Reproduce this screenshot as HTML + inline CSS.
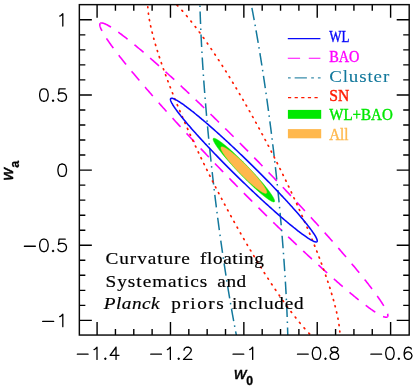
<!DOCTYPE html><html><head><meta charset="utf-8"><style>html,body{margin:0;padding:0;background:#fff}svg{display:block;will-change:transform}text{font-family:"Liberation Sans",sans-serif}.s{font-family:"Liberation Serif",serif}</style></head><body>
<svg width="415" height="389" viewBox="0 0 415 389">
<rect width="415" height="389" fill="#fff"/>
<defs><clipPath id="c"><rect x="79.35" y="4.65" width="329.85" height="330.40"/></clipPath></defs>
<g clip-path="url(#c)" fill="none">
<path d="M100.30 23.39 L100.41 23.30 L100.52 23.21 L100.65 23.14 L100.79 23.08 L100.94 23.04 L101.10 23.00 L101.27 22.97 L101.46 22.96 L101.65 22.96 L101.85 22.96 L102.07 22.98 L102.30 23.01 L102.53 23.06 L102.78 23.11 L103.04 23.17 L103.31 23.25 L103.59 23.33 L103.88 23.43 L104.18 23.54 L104.49 23.66 L104.81 23.79 L105.14 23.93 L105.49 24.09 L105.84 24.25 L106.21 24.43 L106.58 24.61 L106.97 24.81 L107.36 25.02 L107.77 25.24 L108.18 25.47 L108.61 25.71 L109.05 25.96 L109.50 26.23 L109.95 26.50 L110.42 26.79 L110.90 27.09 L111.39 27.39 L111.89 27.71 L112.39 28.04 L112.91 28.38 L113.44 28.73 L113.98 29.09 L114.53 29.47 L115.08 29.85 L115.65 30.24 L116.23 30.65 L116.82 31.06 L117.41 31.49 L118.02 31.92 L118.64 32.37 L119.26 32.83 L119.90 33.29 L120.54 33.77 L121.20 34.26 L121.86 34.76 L122.53 35.27 L123.21 35.79 L123.90 36.32 L124.60 36.86 L125.31 37.41 L126.03 37.97 L126.76 38.54 L127.50 39.12 L128.24 39.71 L128.99 40.31 L129.76 40.92 L130.53 41.54 L131.31 42.17 L132.10 42.81 L132.89 43.45 L133.70 44.11 L134.51 44.78 L135.33 45.46 L136.16 46.15 L137.00 46.84 L137.85 47.55 L138.70 48.26 L139.57 48.99 L140.44 49.72 L141.32 50.47 L142.20 51.22 L143.10 51.98 L144.00 52.75 L144.91 53.53 L145.83 54.32 L146.75 55.11 L147.68 55.92 L148.62 56.73 L149.57 57.56 L150.52 58.39 L151.48 59.23 L152.45 60.08 L153.42 60.93 L154.41 61.80 L155.39 62.67 L156.39 63.55 L157.39 64.44 L158.40 65.34 L159.41 66.24 L160.44 67.16 L161.46 68.08 L162.50 69.01 L163.54 69.95 L164.58 70.89 L165.64 71.84 L166.69 72.80 L167.76 73.77 L168.83 74.74 L169.90 75.72 L170.98 76.71 L172.07 77.71 L173.16 78.71 L174.26 79.72 L175.36 80.74 L176.47 81.76 L177.59 82.79 L178.70 83.83 L179.83 84.87 L180.96 85.92 L182.09 86.98 L183.23 88.04 L184.37 89.11 L185.51 90.19 L186.67 91.27 L187.82 92.35 L188.98 93.45 L190.15 94.55 L191.31 95.65 L192.49 96.76 L193.66 97.88 L194.84 99.00 L196.03 100.13 L197.21 101.26 L198.40 102.40 L199.60 103.54 L200.80 104.69 L202.00 105.84 L203.20 107.00 L204.41 108.16 L205.62 109.33 L206.83 110.50 L208.05 111.67 L209.27 112.86 L210.49 114.04 L211.71 115.23 L212.94 116.42 L214.17 117.62 L215.40 118.82 L216.63 120.03 L217.86 121.24 L219.10 122.45 L220.34 123.67 L221.58 124.89 L222.82 126.11 L224.07 127.34 L225.31 128.57 L226.56 129.80 L227.81 131.04 L229.06 132.28 L230.31 133.52 L231.56 134.76 L232.81 136.01 L234.07 137.26 L235.32 138.52 L236.58 139.77 L237.83 141.03 L239.09 142.29 L240.34 143.55 L241.60 144.81 L242.86 146.08 L244.11 147.35 L245.37 148.62 L246.63 149.89 L247.88 151.16 L249.14 152.44 L250.39 153.71 L251.65 154.99 L252.90 156.27 L254.16 157.54 L255.41 158.82 L256.66 160.11 L257.92 161.39 L259.17 162.67 L260.41 163.95 L261.66 165.23 L262.91 166.52 L264.15 167.80 L265.40 169.09 L266.64 170.37 L267.88 171.65 L269.12 172.94 L270.35 174.22 L271.59 175.51 L272.82 176.79 L274.05 178.07 L275.28 179.35 L276.50 180.63 L277.73 181.91 L278.95 183.19 L280.16 184.47 L281.38 185.75 L282.59 187.03 L283.80 188.30 L285.00 189.57 L286.21 190.85 L287.41 192.12 L288.60 193.39 L289.80 194.65 L290.99 195.92 L292.17 197.18 L293.35 198.44 L294.53 199.70 L295.71 200.96 L296.88 202.21 L298.04 203.46 L299.20 204.71 L300.36 205.96 L301.52 207.20 L302.67 208.44 L303.81 209.68 L304.95 210.92 L306.09 212.15 L307.22 213.38 L308.34 214.60 L309.47 215.83 L310.58 217.05 L311.69 218.26 L312.80 219.47 L313.90 220.68 L315.00 221.88 L316.08 223.08 L317.17 224.28 L318.25 225.47 L319.32 226.66 L320.39 227.84 L321.45 229.02 L322.51 230.20 L323.56 231.37 L324.60 232.53 L325.64 233.69 L326.67 234.85 L327.69 236.00 L328.71 237.14 L329.72 238.28 L330.73 239.42 L331.73 240.55 L332.72 241.67 L333.71 242.79 L334.69 243.91 L335.66 245.01 L336.62 246.12 L337.58 247.21 L338.53 248.30 L339.47 249.39 L340.41 250.47 L341.34 251.54 L342.26 252.61 L343.17 253.67 L344.08 254.72 L344.98 255.77 L345.87 256.81 L346.75 257.84 L347.63 258.87 L348.50 259.89 L349.35 260.90 L350.21 261.91 L351.05 262.91 L351.88 263.90 L352.71 264.89 L353.53 265.87 L354.34 266.84 L355.14 267.80 L355.94 268.76 L356.72 269.71 L357.50 270.65 L358.26 271.58 L359.02 272.51 L359.77 273.43 L360.51 274.34 L361.25 275.24 L361.97 276.13 L362.68 277.02 L363.39 277.90 L364.09 278.77 L364.77 279.63 L365.45 280.48 L366.12 281.33 L366.78 282.16 L367.43 282.99 L368.07 283.81 L368.70 284.62 L369.32 285.42 L369.94 286.22 L370.54 287.00 L371.13 287.78 L371.71 288.54 L372.29 289.30 L372.85 290.05 L373.40 290.79 L373.95 291.52 L374.48 292.24 L375.01 292.95 L375.52 293.65 L376.02 294.34 L376.52 295.03 L377.00 295.70 L377.48 296.37 L377.94 297.02 L378.39 297.67 L378.84 298.30 L379.27 298.93 L379.69 299.54 L380.10 300.15 L380.51 300.74 L380.90 301.33 L381.28 301.90 L381.65 302.47 L382.01 303.03 L382.36 303.57 L382.70 304.11 L383.02 304.63 L383.34 305.15 L383.65 305.65 L383.95 306.15 L384.23 306.63 L384.51 307.10 L384.77 307.57 L385.03 308.02 L385.27 308.46 L385.50 308.89 L385.72 309.31 L385.93 309.73 L386.13 310.13 L386.32 310.51 L386.50 310.89 L386.67 311.26 L386.82 311.62 L386.97 311.96 L387.10 312.30 L387.23 312.62 L387.34 312.94 L387.44 313.24 L387.53 313.53 L387.61 313.81 L387.68 314.08 L387.74 314.34 L387.79 314.59 L387.82 314.83 L387.85 315.05 L387.86 315.27 L387.86 315.47 L387.86 315.67 L387.84 315.85 L387.81 316.02 L387.77 316.18 L387.72 316.33 L387.65 316.47 L387.58 316.59 L387.49 316.71 L387.40 316.81" stroke="#ff00ff" stroke-width="1.6" stroke-dasharray="11.8 8.78"/>
<path d="M387.40 316.81 L387.29 316.90 L387.18 316.99 L387.05 317.06 L386.91 317.12 L386.76 317.16 L386.60 317.20 L386.43 317.23 L386.24 317.24 L386.05 317.24 L385.85 317.24 L385.63 317.22 L385.40 317.19 L385.17 317.14 L384.92 317.09 L384.66 317.03 L384.39 316.95 L384.11 316.87 L383.82 316.77 L383.52 316.66 L383.21 316.54 L382.89 316.41 L382.56 316.27 L382.21 316.11 L381.86 315.95 L381.49 315.77 L381.12 315.59 L380.73 315.39 L380.34 315.18 L379.93 314.96 L379.52 314.73 L379.09 314.49 L378.65 314.24 L378.20 313.97 L377.75 313.70 L377.28 313.41 L376.80 313.11 L376.31 312.81 L375.81 312.49 L375.31 312.16 L374.79 311.82 L374.26 311.47 L373.72 311.11 L373.17 310.73 L372.62 310.35 L372.05 309.96 L371.47 309.55 L370.88 309.14 L370.29 308.71 L369.68 308.28 L369.06 307.83 L368.44 307.37 L367.80 306.91 L367.16 306.43 L366.50 305.94 L365.84 305.44 L365.17 304.93 L364.49 304.41 L363.80 303.88 L363.10 303.34 L362.39 302.79 L361.67 302.23 L360.94 301.66 L360.20 301.08 L359.46 300.49 L358.71 299.89 L357.94 299.28 L357.17 298.66 L356.39 298.03 L355.60 297.39 L354.81 296.75 L354.00 296.09 L353.19 295.42 L352.37 294.74 L351.54 294.05 L350.70 293.36 L349.85 292.65 L349.00 291.94 L348.13 291.21 L347.26 290.48 L346.38 289.73 L345.50 288.98 L344.60 288.22 L343.70 287.45 L342.79 286.67 L341.87 285.88 L340.95 285.09 L340.02 284.28 L339.08 283.47 L338.13 282.64 L337.18 281.81 L336.22 280.97 L335.25 280.12 L334.28 279.27 L333.29 278.40 L332.31 277.53 L331.31 276.65 L330.31 275.76 L329.30 274.86 L328.29 273.96 L327.26 273.04 L326.24 272.12 L325.20 271.19 L324.16 270.25 L323.12 269.31 L322.06 268.36 L321.01 267.40 L319.94 266.43 L318.87 265.46 L317.80 264.48 L316.72 263.49 L315.63 262.49 L314.54 261.49 L313.44 260.48 L312.34 259.46 L311.23 258.44 L310.11 257.41 L309.00 256.37 L307.87 255.33 L306.74 254.28 L305.61 253.22 L304.47 252.16 L303.33 251.09 L302.19 250.01 L301.03 248.93 L299.88 247.85 L298.72 246.75 L297.55 245.65 L296.39 244.55 L295.21 243.44 L294.04 242.32 L292.86 241.20 L291.67 240.07 L290.49 238.94 L289.30 237.80 L288.10 236.66 L286.90 235.51 L285.70 234.36 L284.50 233.20 L283.29 232.04 L282.08 230.87 L280.87 229.70 L279.65 228.53 L278.43 227.34 L277.21 226.16 L275.99 224.97 L274.76 223.78 L273.53 222.58 L272.30 221.38 L271.07 220.17 L269.84 218.96 L268.60 217.75 L267.36 216.53 L266.12 215.31 L264.88 214.09 L263.63 212.86 L262.39 211.63 L261.14 210.40 L259.89 209.16 L258.64 207.92 L257.39 206.68 L256.14 205.44 L254.89 204.19 L253.63 202.94 L252.38 201.68 L251.12 200.43 L249.87 199.17 L248.61 197.91 L247.36 196.65 L246.10 195.39 L244.84 194.12 L243.59 192.85 L242.33 191.58 L241.07 190.31 L239.82 189.04 L238.56 187.76 L237.31 186.49 L236.05 185.21 L234.80 183.93 L233.54 182.66 L232.29 181.38 L231.04 180.09 L229.78 178.81 L228.53 177.53 L227.29 176.25 L226.04 174.97 L224.79 173.68 L223.55 172.40 L222.30 171.11 L221.06 169.83 L219.82 168.55 L218.58 167.26 L217.35 165.98 L216.11 164.69 L214.88 163.41 L213.65 162.13 L212.42 160.85 L211.20 159.57 L209.97 158.29 L208.75 157.01 L207.54 155.73 L206.32 154.45 L205.11 153.17 L203.90 151.90 L202.70 150.63 L201.49 149.35 L200.29 148.08 L199.10 146.81 L197.90 145.55 L196.71 144.28 L195.53 143.02 L194.35 141.76 L193.17 140.50 L191.99 139.24 L190.82 137.99 L189.66 136.74 L188.50 135.49 L187.34 134.24 L186.18 133.00 L185.03 131.76 L183.89 130.52 L182.75 129.28 L181.61 128.05 L180.48 126.82 L179.36 125.60 L178.23 124.37 L177.12 123.15 L176.01 121.94 L174.90 120.73 L173.80 119.52 L172.70 118.32 L171.62 117.12 L170.53 115.92 L169.45 114.73 L168.38 113.54 L167.31 112.36 L166.25 111.18 L165.19 110.00 L164.14 108.83 L163.10 107.67 L162.06 106.51 L161.03 105.35 L160.01 104.20 L158.99 103.06 L157.98 101.92 L156.97 100.78 L155.97 99.65 L154.98 98.53 L153.99 97.41 L153.01 96.29 L152.04 95.19 L151.08 94.08 L150.12 92.99 L149.17 91.90 L148.23 90.81 L147.29 89.73 L146.36 88.66 L145.44 87.59 L144.53 86.53 L143.62 85.48 L142.72 84.43 L141.83 83.39 L140.95 82.36 L140.07 81.33 L139.20 80.31 L138.35 79.30 L137.49 78.29 L136.65 77.29 L135.82 76.30 L134.99 75.31 L134.17 74.33 L133.36 73.36 L132.56 72.40 L131.76 71.44 L130.98 70.49 L130.20 69.55 L129.44 68.62 L128.68 67.69 L127.93 66.77 L127.19 65.86 L126.45 64.96 L125.73 64.07 L125.02 63.18 L124.31 62.30 L123.61 61.43 L122.93 60.57 L122.25 59.72 L121.58 58.87 L120.92 58.04 L120.27 57.21 L119.63 56.39 L119.00 55.58 L118.38 54.78 L117.76 53.98 L117.16 53.20 L116.57 52.42 L115.99 51.66 L115.41 50.90 L114.85 50.15 L114.30 49.41 L113.75 48.68 L113.22 47.96 L112.69 47.25 L112.18 46.55 L111.68 45.86 L111.18 45.17 L110.70 44.50 L110.22 43.83 L109.76 43.18 L109.31 42.53 L108.86 41.90 L108.43 41.27 L108.01 40.66 L107.60 40.05 L107.19 39.46 L106.80 38.87 L106.42 38.30 L106.05 37.73 L105.69 37.17 L105.34 36.63 L105.00 36.09 L104.68 35.57 L104.36 35.05 L104.05 34.55 L103.75 34.05 L103.47 33.57 L103.19 33.10 L102.93 32.63 L102.67 32.18 L102.43 31.74 L102.20 31.31 L101.98 30.89 L101.77 30.47 L101.57 30.07 L101.38 29.69 L101.20 29.31 L101.03 28.94 L100.88 28.58 L100.73 28.24 L100.60 27.90 L100.47 27.58 L100.36 27.26 L100.26 26.96 L100.17 26.67 L100.09 26.39 L100.02 26.12 L99.96 25.86 L99.91 25.61 L99.88 25.37 L99.85 25.15 L99.84 24.93 L99.84 24.73 L99.84 24.53 L99.86 24.35 L99.89 24.18 L99.93 24.02 L99.98 23.87 L100.05 23.73 L100.12 23.61 L100.21 23.49 L100.30 23.39" stroke="#ff00ff" stroke-width="1.6" stroke-dasharray="11.87 8.84" stroke-dashoffset="7.3"/>
<path d="M251.27 4.65 L251.43 5.44 L251.58 6.24 L251.73 7.04 L251.89 7.84 L252.04 8.64 L252.19 9.44 L252.35 10.25 L252.50 11.05 L252.65 11.86 L252.81 12.67 L252.96 13.49 L253.11 14.30 L253.27 15.12 L253.42 15.94 L253.57 16.76 L253.72 17.58 L253.88 18.41 L254.03 19.24 L254.18 20.06 L254.33 20.90 L254.48 21.73 L254.64 22.56 L254.79 23.40 L254.94 24.24 L255.09 25.08 L255.24 25.92 L255.39 26.76 L255.54 27.61 L255.69 28.45 L255.84 29.30 L255.99 30.15 L256.14 31.00 L256.29 31.86 L256.44 32.71 L256.59 33.57 L256.74 34.43 L256.89 35.29 L257.04 36.15 L257.19 37.02 L257.34 37.88 L257.49 38.75 L257.64 39.62 L257.79 40.49 L257.93 41.36 L258.08 42.23 L258.23 43.11 L258.38 43.99 L258.53 44.87 L258.67 45.75 L258.82 46.63 L258.97 47.51 L259.11 48.39 L259.26 49.28 L259.41 50.17 L259.55 51.06 L259.70 51.95 L259.85 52.84 L259.99 53.73 L260.14 54.63 L260.28 55.53 L260.43 56.42 L260.57 57.32 L260.72 58.22 L260.86 59.13 L261.00 60.03 L261.15 60.93 L261.29 61.84 L261.44 62.75 L261.58 63.66 L261.72 64.57 L261.87 65.48 L262.01 66.39 L262.15 67.30 L262.29 68.22 L262.43 69.14 L262.58 70.05 L262.72 70.97 L262.86 71.89 L263.00 72.82 L263.14 73.74 L263.28 74.66 L263.42 75.59 L263.56 76.51 L263.70 77.44 L263.84 78.37 L263.98 79.30 L264.12 80.23 L264.26 81.16 L264.40 82.10 L264.54 83.03 L264.67 83.97 L264.81 84.90 L264.95 85.84 L265.09 86.78 L265.22 87.72 L265.36 88.66 L265.50 89.60 L265.63 90.54 L265.77 91.49 L265.90 92.43 L266.04 93.38 L266.17 94.32 L266.31 95.27 L266.44 96.22 L266.58 97.17 L266.71 98.12 L266.85 99.07 L266.98 100.02 L267.11 100.97 L267.25 101.93 L267.38 102.88 L267.51 103.84 L267.64 104.79 L267.77 105.75 L267.91 106.71 L268.04 107.67 L268.17 108.62 L268.30 109.58 L268.43 110.55 L268.56 111.51 L268.69 112.47 L268.82 113.43 L268.95 114.40 L269.07 115.36 L269.20 116.33 L269.33 117.29 L269.46 118.26 L269.59 119.22 L269.71 120.19 L269.84 121.16 L269.97 122.13 L270.09 123.10 L270.22 124.07 L270.34 125.04 L270.47 126.01 L270.59 126.98 L270.72 127.96 L270.84 128.93 L270.97 129.90 L271.09 130.88 L271.21 131.85 L271.34 132.82 L271.46 133.80 L271.58 134.78 L271.70 135.75 L271.82 136.73 L271.94 137.71 L272.06 138.68 L272.18 139.66 L272.30 140.64 L272.42 141.62 L272.54 142.60 L272.66 143.58 L272.78 144.56 L272.90 145.54 L273.02 146.52 L273.13 147.50 L273.25 148.48 L273.37 149.46 L273.49 150.44 L273.60 151.42 L273.72 152.40 L273.83 153.38 L273.95 154.37 L274.06 155.35 L274.18 156.33 L274.29 157.31 L274.40 158.30 L274.52 159.28 L274.63 160.26 L274.74 161.25 L274.85 162.23 L274.96 163.21 L275.08 164.20 L275.19 165.18 L275.30 166.16 L275.41 167.15 L275.52 168.13 L275.62 169.12 L275.73 170.10 L275.84 171.08 L275.95 172.07 L276.06 173.05 L276.16 174.04 L276.27 175.02 L276.38 176.00 L276.48 176.99 L276.59 177.97 L276.69 178.95 L276.80 179.94 L276.90 180.92 L277.01 181.90 L277.11 182.89 L277.21 183.87 L277.32 184.85 L277.42 185.83 L277.52 186.82 L277.62 187.80 L277.72 188.78 L277.82 189.76 L277.92 190.74 L278.02 191.72 L278.12 192.70 L278.22 193.68 L278.32 194.66 L278.42 195.64 L278.52 196.62 L278.61 197.60 L278.71 198.58 L278.81 199.56 L278.90 200.54 L279.00 201.52 L279.09 202.49 L279.19 203.47 L279.28 204.45 L279.37 205.42 L279.47 206.40 L279.56 207.38 L279.65 208.35 L279.75 209.32 L279.84 210.30 L279.93 211.27 L280.02 212.24 L280.11 213.22 L280.20 214.19 L280.29 215.16 L280.38 216.13 L280.46 217.10 L280.55 218.07 L280.64 219.04 L280.73 220.01 L280.81 220.98 L280.90 221.94 L280.98 222.91 L281.07 223.87 L281.15 224.84 L281.24 225.80 L281.32 226.77 L281.41 227.73 L281.49 228.69 L281.57 229.65 L281.65 230.62 L281.73 231.58 L281.81 232.53 L281.90 233.49 L281.98 234.45 L282.05 235.41 L282.13 236.36 L282.21 237.32 L282.29 238.27 L282.37 239.23 L282.44 240.18 L282.52 241.13 L282.60 242.08 L282.67 243.03 L282.75 243.98 L282.82 244.93 L282.90 245.88 L282.97 246.82 L283.04 247.77 L283.12 248.71 L283.19 249.66 L283.26 250.60 L283.33 251.54 L283.40 252.48 L283.47 253.42 L283.54 254.36 L283.61 255.30 L283.68 256.23 L283.75 257.17 L283.82 258.10 L283.88 259.04 L283.95 259.97 L284.02 260.90 L284.08 261.83 L284.15 262.76 L284.21 263.69 L284.28 264.61 L284.34 265.54 L284.41 266.46 L284.47 267.38 L284.53 268.31 L284.59 269.23 L284.65 270.15 L284.71 271.06 L284.77 271.98 L284.83 272.90 L284.89 273.81 L284.95 274.72 L285.01 275.63 L285.07 276.54 L285.13 277.45 L285.18 278.36 L285.24 279.27 L285.29 280.17 L285.35 281.07 L285.40 281.98 L285.46 282.88 L285.51 283.78 L285.57 284.67 L285.62 285.57 L285.67 286.47 L285.72 287.36 L285.77 288.25 L285.82 289.14 L285.87 290.03 L285.92 290.92 L285.97 291.81 L286.02 292.69 L286.07 293.57 L286.12 294.45 L286.16 295.33 L286.21 296.21 L286.25 297.09 L286.30 297.97 L286.34 298.84 L286.39 299.71 L286.43 300.58 L286.48 301.45 L286.52 302.32 L286.56 303.18 L286.60 304.05 L286.64 304.91 L286.68 305.77 L286.72 306.63 L286.76 307.49 L286.80 308.34 L286.84 309.20 L286.88 310.05 L286.91 310.90 L286.95 311.75 L286.99 312.59 L287.02 313.44 L287.06 314.28 L287.09 315.12 L287.13 315.96 L287.16 316.80 L287.19 317.64 L287.23 318.47 L287.26 319.30 L287.29 320.14 L287.32 320.96 L287.35 321.79 L287.38 322.62 L287.41 323.44 L287.44 324.26 L287.47 325.08 L287.49 325.90 L287.52 326.71 L287.55 327.53 L287.57 328.34 L287.60 329.15 L287.62 329.95 L287.65 330.76 L287.67 331.56 L287.70 332.36 L287.72 333.16 L287.74 333.96 L287.76 334.76 L287.78 335.55" stroke="#12789c" stroke-width="1.5" stroke-dasharray="12.5 4.5 1.5 4.5" stroke-dashoffset="19.74"/>
<path d="M199.92 4.65 L199.94 5.44 L199.96 6.24 L199.98 7.04 L200.00 7.84 L200.03 8.64 L200.05 9.44 L200.08 10.25 L200.10 11.05 L200.13 11.86 L200.15 12.67 L200.18 13.49 L200.21 14.30 L200.23 15.12 L200.26 15.94 L200.29 16.76 L200.32 17.58 L200.35 18.41 L200.38 19.24 L200.41 20.06 L200.44 20.90 L200.47 21.73 L200.51 22.56 L200.54 23.40 L200.57 24.24 L200.61 25.08 L200.64 25.92 L200.68 26.76 L200.71 27.61 L200.75 28.45 L200.79 29.30 L200.82 30.15 L200.86 31.00 L200.90 31.86 L200.94 32.71 L200.98 33.57 L201.02 34.43 L201.06 35.29 L201.10 36.15 L201.14 37.02 L201.18 37.88 L201.22 38.75 L201.27 39.62 L201.31 40.49 L201.36 41.36 L201.40 42.23 L201.45 43.11 L201.49 43.99 L201.54 44.87 L201.58 45.75 L201.63 46.63 L201.68 47.51 L201.73 48.39 L201.78 49.28 L201.83 50.17 L201.88 51.06 L201.93 51.95 L201.98 52.84 L202.03 53.73 L202.08 54.63 L202.13 55.53 L202.19 56.42 L202.24 57.32 L202.30 58.22 L202.35 59.13 L202.41 60.03 L202.46 60.93 L202.52 61.84 L202.57 62.75 L202.63 63.66 L202.69 64.57 L202.75 65.48 L202.81 66.39 L202.87 67.30 L202.93 68.22 L202.99 69.14 L203.05 70.05 L203.11 70.97 L203.17 71.89 L203.23 72.82 L203.29 73.74 L203.36 74.66 L203.42 75.59 L203.49 76.51 L203.55 77.44 L203.62 78.37 L203.68 79.30 L203.75 80.23 L203.82 81.16 L203.88 82.10 L203.95 83.03 L204.02 83.97 L204.09 84.90 L204.16 85.84 L204.23 86.78 L204.30 87.72 L204.37 88.66 L204.44 89.60 L204.51 90.54 L204.58 91.49 L204.66 92.43 L204.73 93.38 L204.80 94.32 L204.88 95.27 L204.95 96.22 L205.03 97.17 L205.10 98.12 L205.18 99.07 L205.26 100.02 L205.33 100.97 L205.41 101.93 L205.49 102.88 L205.57 103.84 L205.65 104.79 L205.72 105.75 L205.80 106.71 L205.89 107.67 L205.97 108.62 L206.05 109.58 L206.13 110.55 L206.21 111.51 L206.29 112.47 L206.38 113.43 L206.46 114.40 L206.55 115.36 L206.63 116.33 L206.72 117.29 L206.80 118.26 L206.89 119.22 L206.97 120.19 L207.06 121.16 L207.15 122.13 L207.24 123.10 L207.32 124.07 L207.41 125.04 L207.50 126.01 L207.59 126.98 L207.68 127.96 L207.77 128.93 L207.86 129.90 L207.95 130.88 L208.05 131.85 L208.14 132.82 L208.23 133.80 L208.33 134.78 L208.42 135.75 L208.51 136.73 L208.61 137.71 L208.70 138.68 L208.80 139.66 L208.89 140.64 L208.99 141.62 L209.09 142.60 L209.18 143.58 L209.28 144.56 L209.38 145.54 L209.48 146.52 L209.58 147.50 L209.68 148.48 L209.78 149.46 L209.88 150.44 L209.98 151.42 L210.08 152.40 L210.18 153.38 L210.28 154.37 L210.38 155.35 L210.49 156.33 L210.59 157.31 L210.69 158.30 L210.80 159.28 L210.90 160.26 L211.01 161.25 L211.11 162.23 L211.22 163.21 L211.32 164.20 L211.43 165.18 L211.54 166.16 L211.64 167.15 L211.75 168.13 L211.86 169.12 L211.97 170.10 L212.08 171.08 L212.18 172.07 L212.29 173.05 L212.40 174.04 L212.51 175.02 L212.62 176.00 L212.74 176.99 L212.85 177.97 L212.96 178.95 L213.07 179.94 L213.18 180.92 L213.30 181.90 L213.41 182.89 L213.52 183.87 L213.64 184.85 L213.75 185.83 L213.87 186.82 L213.98 187.80 L214.10 188.78 L214.21 189.76 L214.33 190.74 L214.45 191.72 L214.57 192.70 L214.68 193.68 L214.80 194.66 L214.92 195.64 L215.04 196.62 L215.16 197.60 L215.28 198.58 L215.40 199.56 L215.52 200.54 L215.64 201.52 L215.76 202.49 L215.88 203.47 L216.00 204.45 L216.12 205.42 L216.24 206.40 L216.36 207.38 L216.49 208.35 L216.61 209.32 L216.73 210.30 L216.86 211.27 L216.98 212.24 L217.11 213.22 L217.23 214.19 L217.36 215.16 L217.48 216.13 L217.61 217.10 L217.73 218.07 L217.86 219.04 L217.99 220.01 L218.11 220.98 L218.24 221.94 L218.37 222.91 L218.50 223.87 L218.63 224.84 L218.75 225.80 L218.88 226.77 L219.01 227.73 L219.14 228.69 L219.27 229.65 L219.40 230.62 L219.53 231.58 L219.66 232.53 L219.79 233.49 L219.93 234.45 L220.06 235.41 L220.19 236.36 L220.32 237.32 L220.45 238.27 L220.59 239.23 L220.72 240.18 L220.85 241.13 L220.99 242.08 L221.12 243.03 L221.26 243.98 L221.39 244.93 L221.53 245.88 L221.66 246.82 L221.80 247.77 L221.93 248.71 L222.07 249.66 L222.20 250.60 L222.34 251.54 L222.48 252.48 L222.61 253.42 L222.75 254.36 L222.89 255.30 L223.03 256.23 L223.16 257.17 L223.30 258.10 L223.44 259.04 L223.58 259.97 L223.72 260.90 L223.86 261.83 L224.00 262.76 L224.14 263.69 L224.28 264.61 L224.42 265.54 L224.56 266.46 L224.70 267.38 L224.84 268.31 L224.98 269.23 L225.12 270.15 L225.27 271.06 L225.41 271.98 L225.55 272.90 L225.69 273.81 L225.83 274.72 L225.98 275.63 L226.12 276.54 L226.26 277.45 L226.41 278.36 L226.55 279.27 L226.70 280.17 L226.84 281.07 L226.98 281.98 L227.13 282.88 L227.27 283.78 L227.42 284.67 L227.56 285.57 L227.71 286.47 L227.85 287.36 L228.00 288.25 L228.15 289.14 L228.29 290.03 L228.44 290.92 L228.59 291.81 L228.73 292.69 L228.88 293.57 L229.03 294.45 L229.17 295.33 L229.32 296.21 L229.47 297.09 L229.62 297.97 L229.77 298.84 L229.91 299.71 L230.06 300.58 L230.21 301.45 L230.36 302.32 L230.51 303.18 L230.66 304.05 L230.81 304.91 L230.96 305.77 L231.11 306.63 L231.26 307.49 L231.41 308.34 L231.56 309.20 L231.71 310.05 L231.86 310.90 L232.01 311.75 L232.16 312.59 L232.31 313.44 L232.46 314.28 L232.61 315.12 L232.76 315.96 L232.91 316.80 L233.06 317.64 L233.22 318.47 L233.37 319.30 L233.52 320.14 L233.67 320.96 L233.82 321.79 L233.98 322.62 L234.13 323.44 L234.28 324.26 L234.43 325.08 L234.59 325.90 L234.74 326.71 L234.89 327.53 L235.05 328.34 L235.20 329.15 L235.35 329.95 L235.51 330.76 L235.66 331.56 L235.81 332.36 L235.97 333.16 L236.12 333.96 L236.27 334.76 L236.43 335.55" stroke="#12789c" stroke-width="1.5" stroke-dasharray="12.5 4.5 1.5 4.5" stroke-dashoffset="16.05"/>
<path d="M147.77 6.75 L147.83 7.75 M148.37 13.23 L148.50 14.23 M149.36 19.58 L149.54 20.56 M150.62 25.86 L150.83 26.84 M152.08 32.11 L152.32 33.07 M153.70 38.29 L153.96 39.25 M155.44 44.43 L155.72 45.39 M157.29 50.55 L157.59 51.51 M159.24 56.65 L159.56 57.61 M161.27 62.72 L161.60 63.66 M163.37 68.76 L163.71 69.70 M165.55 74.80 L165.89 75.74 M167.78 80.80 L168.13 81.74 M170.07 86.80 L170.43 87.74 M172.41 92.79 L172.78 93.71 M174.80 98.75 L175.18 99.67 M177.24 104.71 L177.62 105.63 M179.73 110.65 L180.11 111.57 M182.25 116.57 L182.64 117.49 M184.82 122.49 L185.22 123.41 M187.42 128.39 L187.83 129.31 M190.06 134.27 L190.47 135.19 M192.75 140.18 L193.17 141.08 M195.46 146.04 L195.88 146.94 M198.21 151.90 L198.64 152.80 M201.01 157.76 L201.44 158.66 M203.83 163.60 L204.27 164.50 M206.69 169.44 L207.13 170.34 M209.58 175.26 L210.03 176.16 M212.50 181.06 L212.95 181.96 M215.46 186.89 L215.92 187.77 M218.45 192.67 L218.91 193.55 M221.47 198.45 L221.94 199.33 M224.54 204.23 L225.01 205.11 M227.63 209.99 L228.11 210.87 M230.76 215.75 L231.24 216.63 M233.93 221.49 L234.41 222.37 M237.14 227.23 L237.63 228.11 M240.38 232.96 L240.87 233.82 M243.66 238.68 L244.16 239.54 M246.98 244.38 L247.49 245.24 M250.34 250.06 L250.85 250.92 M253.75 255.74 L254.27 256.60 M257.20 261.40 L257.73 262.26 M260.71 267.07 L261.24 267.91 M264.26 272.69 L264.79 273.53 M267.87 278.31 L268.41 279.15 M271.53 283.91 L272.09 284.75 M275.27 289.50 L275.83 290.32 M279.08 295.08 L279.65 295.90 M282.97 300.62 L283.55 301.44 M286.93 306.13 L287.52 306.93 M291.00 311.61 L291.61 312.41 M295.21 317.08 L295.82 317.86 M299.54 322.48 L300.18 323.26 M304.07 327.85 L304.73 328.61 M308.84 333.17 L309.53 333.89 M177.07 5.15 L177.76 5.87 M181.93 10.42 L182.60 11.16 M186.53 15.75 L187.17 16.51 M190.93 21.14 L191.55 21.92 M195.17 26.57 L195.77 27.37 M199.28 32.05 L199.88 32.85 M203.28 37.54 L203.86 38.36 M207.20 43.08 L207.77 43.90 M211.03 48.64 L211.59 49.46 M214.78 54.19 L215.33 55.03 M218.47 59.79 L219.01 60.63 M222.10 65.41 L222.64 66.25 M225.68 71.05 L226.21 71.89 M229.20 76.68 L229.72 77.54 M232.67 82.34 L233.18 83.20 M236.08 88.00 L236.59 88.86 M239.47 93.70 L239.98 94.56 M242.81 99.40 L243.31 100.26 M246.09 105.10 L246.59 105.96 M249.35 110.81 L249.84 111.69 M252.57 116.55 L253.06 117.43 M255.75 122.29 L256.23 123.17 M258.89 128.03 L259.37 128.91 M262.00 133.79 L262.47 134.67 M265.07 139.57 L265.54 140.45 M268.11 145.35 L268.57 146.23 M271.12 151.15 L271.58 152.03 M274.09 156.94 L274.54 157.84 M277.02 162.74 L277.47 163.64 M279.93 168.56 L280.37 169.46 M282.80 174.40 L283.24 175.30 M285.64 180.24 L286.07 181.14 M288.43 186.08 L288.86 186.98 M291.20 191.94 L291.62 192.84 M293.93 197.82 L294.35 198.72 M296.63 203.69 L297.04 204.61 M299.28 209.57 L299.69 210.49 M301.91 215.49 L302.31 216.41 M304.49 221.39 L304.88 222.31 M307.03 227.31 L307.42 228.23 M309.53 233.25 L309.91 234.17 M311.99 239.21 L312.36 240.13 M314.39 245.17 L314.77 246.09 M316.75 251.12 L317.11 252.06 M319.06 257.12 L319.42 258.06 M321.31 263.12 L321.66 264.06 M323.51 269.14 L323.84 270.08 M325.64 275.18 L325.96 276.12 M327.70 281.26 L328.02 282.20 M329.68 287.33 L329.98 288.29 M331.57 293.43 L331.85 294.39 M333.35 299.57 L333.62 300.53 M335.02 305.75 L335.27 306.71 M336.55 311.96 L336.77 312.94 M337.89 318.22 L338.08 319.20 M338.99 324.56 L339.14 325.54 M339.76 330.99 L339.84 331.99" stroke="#ff1a00" stroke-width="1.7" stroke-linecap="round"/>
<path d="M251.11 170.10 L250.59 169.54 L250.07 168.99 L249.54 168.43 L249.01 167.88 L248.48 167.32 L247.95 166.77 L247.41 166.22 L246.88 165.67 L246.35 165.12 L245.81 164.57 L245.27 164.02 L244.74 163.48 L244.20 162.93 L243.66 162.39 L243.12 161.85 L242.59 161.32 L242.05 160.78 L241.51 160.25 L240.98 159.73 L240.44 159.20 L239.91 158.68 L239.38 158.16 L238.85 157.65 L238.32 157.14 L237.79 156.63 L237.27 156.13 L236.74 155.63 L236.22 155.14 L235.70 154.65 L235.18 154.17 L234.67 153.69 L234.16 153.21 L233.65 152.75 L233.14 152.28 L232.64 151.82 L232.14 151.37 L231.65 150.92 L231.16 150.48 L230.67 150.05 L230.19 149.62 L229.71 149.20 L229.23 148.78 L228.76 148.37 L228.29 147.97 L227.83 147.57 L227.38 147.18 L226.93 146.80 L226.48 146.42 L226.04 146.05 L225.60 145.69 L225.17 145.34 L224.75 144.99 L224.33 144.65 L223.92 144.32 L223.51 144.00 L223.11 143.68 L222.72 143.38 L222.33 143.08 L221.95 142.79 L221.57 142.51 L221.21 142.23 L220.85 141.97 L220.49 141.71 L220.15 141.46 L219.81 141.22 L219.48 140.99 L219.15 140.77 L218.83 140.56 L218.53 140.35 L218.22 140.16 L217.93 139.97 L217.64 139.80 L217.37 139.63 L217.10 139.47 L216.83 139.32 L216.58 139.18 L216.34 139.05 L216.10 138.93 L215.87 138.82 L215.65 138.72 L215.44 138.63 L215.24 138.55 L215.04 138.47 L214.86 138.41 L214.68 138.36 L214.51 138.31 L214.36 138.28 L214.21 138.26 L214.07 138.24 L213.93 138.24 L213.81 138.24 L213.70 138.26 L213.60 138.28 L213.50 138.31 L213.42 138.36 L213.34 138.41 L213.27 138.47 L213.21 138.55 L213.17 138.63 L213.13 138.72 L213.10 138.82 L213.08 138.93 L213.07 139.05 L213.07 139.18 L213.07 139.32 L213.09 139.47 L213.12 139.63 L213.15 139.80 L213.20 139.97 L213.25 140.16 L213.32 140.35 L213.39 140.56 L213.47 140.77 L213.57 140.99 L213.67 141.22 L213.78 141.46 L213.90 141.71 L214.03 141.97 L214.16 142.23 L214.31 142.51 L214.47 142.79 L214.63 143.08 L214.80 143.38 L214.99 143.68 L215.18 144.00 L215.38 144.32 L215.59 144.65 L215.80 144.99 L216.03 145.34 L216.26 145.69 L216.51 146.05 L216.76 146.42 L217.02 146.80 L217.28 147.18 L217.56 147.57 L217.84 147.97 L218.13 148.37 L218.43 148.78 L218.74 149.20 L219.06 149.62 L219.38 150.05 L219.71 150.48 L220.04 150.92 L220.39 151.37 L220.74 151.82 L221.10 152.28 L221.46 152.75 L221.84 153.21 L222.22 153.69 L222.60 154.17 L222.99 154.65 L223.39 155.14 L223.80 155.63 L224.21 156.13 L224.62 156.63 L225.05 157.14 L225.47 157.65 L225.91 158.16 L226.35 158.68 L226.79 159.20 L227.24 159.73 L227.70 160.25 L228.16 160.78 L228.62 161.32 L229.09 161.85 L229.56 162.39 L230.04 162.93 L230.52 163.48 L231.01 164.02 L231.50 164.57 L232.00 165.12 L232.49 165.67 L232.99 166.22 L233.50 166.77 L234.01 167.32 L234.52 167.88 L235.03 168.43 L235.55 168.99 L236.06 169.54 L236.59 170.10 L237.11 170.66 L237.63 171.21 L238.16 171.77 L238.69 172.32 L239.22 172.88 L239.75 173.43 L240.29 173.98 L240.82 174.53 L241.35 175.08 L241.89 175.63 L242.43 176.18 L242.96 176.72 L243.50 177.27 L244.04 177.81 L244.58 178.35 L245.11 178.88 L245.65 179.42 L246.19 179.95 L246.72 180.47 L247.26 181.00 L247.79 181.52 L248.32 182.04 L248.85 182.55 L249.38 183.06 L249.91 183.57 L250.43 184.07 L250.96 184.57 L251.48 185.06 L252.00 185.55 L252.52 186.03 L253.03 186.51 L253.54 186.99 L254.05 187.45 L254.56 187.92 L255.06 188.38 L255.56 188.83 L256.05 189.28 L256.54 189.72 L257.03 190.15 L257.51 190.58 L257.99 191.00 L258.47 191.42 L258.94 191.83 L259.41 192.23 L259.87 192.63 L260.32 193.02 L260.77 193.40 L261.22 193.78 L261.66 194.15 L262.10 194.51 L262.53 194.86 L262.95 195.21 L263.37 195.55 L263.78 195.88 L264.19 196.20 L264.59 196.52 L264.98 196.82 L265.37 197.12 L265.75 197.41 L266.13 197.69 L266.49 197.97 L266.85 198.23 L267.21 198.49 L267.55 198.74 L267.89 198.98 L268.22 199.21 L268.55 199.43 L268.87 199.64 L269.17 199.85 L269.48 200.04 L269.77 200.23 L270.06 200.40 L270.33 200.57 L270.60 200.73 L270.87 200.88 L271.12 201.02 L271.36 201.15 L271.60 201.27 L271.83 201.38 L272.05 201.48 L272.26 201.57 L272.46 201.65 L272.66 201.73 L272.84 201.79 L273.02 201.84 L273.19 201.89 L273.34 201.92 L273.49 201.94 L273.63 201.96 L273.77 201.96 L273.89 201.96 L274.00 201.94 L274.10 201.92 L274.20 201.89 L274.28 201.84 L274.36 201.79 L274.43 201.73 L274.49 201.65 L274.53 201.57 L274.57 201.48 L274.60 201.38 L274.62 201.27 L274.63 201.15 L274.63 201.02 L274.63 200.88 L274.61 200.73 L274.58 200.57 L274.55 200.40 L274.50 200.23 L274.45 200.04 L274.38 199.85 L274.31 199.64 L274.23 199.43 L274.13 199.21 L274.03 198.98 L273.92 198.74 L273.80 198.49 L273.67 198.23 L273.54 197.97 L273.39 197.69 L273.23 197.41 L273.07 197.12 L272.90 196.82 L272.71 196.52 L272.52 196.20 L272.32 195.88 L272.11 195.55 L271.90 195.21 L271.67 194.86 L271.44 194.51 L271.19 194.15 L270.94 193.78 L270.68 193.40 L270.42 193.02 L270.14 192.63 L269.86 192.23 L269.57 191.83 L269.27 191.42 L268.96 191.00 L268.64 190.58 L268.32 190.15 L267.99 189.72 L267.66 189.28 L267.31 188.83 L266.96 188.38 L266.60 187.92 L266.24 187.45 L265.86 186.99 L265.48 186.51 L265.10 186.03 L264.71 185.55 L264.31 185.06 L263.90 184.57 L263.49 184.07 L263.08 183.57 L262.65 183.06 L262.23 182.55 L261.79 182.04 L261.35 181.52 L260.91 181.00 L260.46 180.47 L260.00 179.95 L259.54 179.42 L259.08 178.88 L258.61 178.35 L258.14 177.81 L257.66 177.27 L257.18 176.72 L256.69 176.18 L256.20 175.63 L255.70 175.08 L255.21 174.53 L254.71 173.98 L254.20 173.43 L253.69 172.88 L253.18 172.32 L252.67 171.77 L252.15 171.21 L251.64 170.66 L251.11 170.10" fill="#00e800" stroke="#00e800" stroke-width="0.5"/>
<path d="M250.67 170.10 L250.29 169.69 L249.91 169.29 L249.52 168.88 L249.13 168.47 L248.74 168.07 L248.35 167.66 L247.96 167.26 L247.56 166.86 L247.17 166.46 L246.77 166.05 L246.37 165.65 L245.97 165.26 L245.57 164.86 L245.17 164.46 L244.78 164.07 L244.37 163.68 L243.97 163.29 L243.57 162.90 L243.17 162.52 L242.77 162.13 L242.37 161.75 L241.98 161.37 L241.58 161.00 L241.18 160.62 L240.78 160.25 L240.39 159.89 L239.99 159.52 L239.60 159.16 L239.20 158.81 L238.81 158.45 L238.42 158.10 L238.03 157.75 L237.65 157.41 L237.26 157.07 L236.88 156.74 L236.50 156.41 L236.12 156.08 L235.75 155.76 L235.37 155.44 L235.00 155.13 L234.64 154.82 L234.27 154.51 L233.91 154.21 L233.55 153.92 L233.19 153.63 L232.84 153.34 L232.49 153.06 L232.15 152.79 L231.80 152.52 L231.46 152.25 L231.13 152.00 L230.80 151.74 L230.47 151.49 L230.15 151.25 L229.83 151.02 L229.51 150.79 L229.20 150.56 L228.90 150.34 L228.60 150.13 L228.30 149.92 L228.01 149.72 L227.72 149.53 L227.44 149.34 L227.16 149.16 L226.89 148.99 L226.62 148.82 L226.36 148.66 L226.11 148.50 L225.86 148.35 L225.61 148.21 L225.37 148.07 L225.14 147.94 L224.91 147.82 L224.68 147.71 L224.47 147.60 L224.26 147.50 L224.05 147.40 L223.85 147.31 L223.66 147.23 L223.47 147.16 L223.29 147.09 L223.12 147.03 L222.95 146.98 L222.79 146.93 L222.63 146.89 L222.48 146.86 L222.34 146.84 L222.21 146.82 L222.08 146.81 L221.96 146.80 L221.84 146.81 L221.73 146.82 L221.63 146.84 L221.53 146.86 L221.44 146.89 L221.36 146.93 L221.29 146.98 L221.22 147.03 L221.16 147.09 L221.10 147.16 L221.06 147.23 L221.01 147.31 L220.98 147.40 L220.95 147.50 L220.94 147.60 L220.92 147.71 L220.92 147.82 L220.92 147.94 L220.93 148.07 L220.94 148.21 L220.96 148.35 L220.99 148.50 L221.03 148.66 L221.07 148.82 L221.12 148.99 L221.18 149.16 L221.24 149.34 L221.31 149.53 L221.39 149.72 L221.48 149.92 L221.57 150.13 L221.67 150.34 L221.77 150.56 L221.88 150.79 L222.00 151.02 L222.13 151.25 L222.26 151.49 L222.40 151.74 L222.54 152.00 L222.69 152.25 L222.85 152.52 L223.01 152.79 L223.18 153.06 L223.36 153.34 L223.54 153.63 L223.73 153.92 L223.93 154.21 L224.13 154.51 L224.34 154.82 L224.55 155.13 L224.77 155.44 L224.99 155.76 L225.22 156.08 L225.46 156.41 L225.70 156.74 L225.95 157.07 L226.20 157.41 L226.46 157.75 L226.72 158.10 L226.99 158.45 L227.27 158.81 L227.55 159.16 L227.83 159.52 L228.12 159.89 L228.41 160.25 L228.71 160.62 L229.01 161.00 L229.32 161.37 L229.63 161.75 L229.95 162.13 L230.27 162.52 L230.59 162.90 L230.92 163.29 L231.26 163.68 L231.59 164.07 L231.93 164.46 L232.28 164.86 L232.62 165.26 L232.97 165.65 L233.33 166.05 L233.68 166.46 L234.04 166.86 L234.41 167.26 L234.77 167.66 L235.14 168.07 L235.51 168.47 L235.89 168.88 L236.27 169.29 L236.64 169.69 L237.03 170.10 L237.41 170.51 L237.79 170.91 L238.18 171.32 L238.57 171.73 L238.96 172.13 L239.35 172.54 L239.74 172.94 L240.14 173.34 L240.53 173.74 L240.93 174.15 L241.33 174.55 L241.73 174.94 L242.13 175.34 L242.53 175.74 L242.92 176.13 L243.33 176.52 L243.73 176.91 L244.13 177.30 L244.53 177.68 L244.93 178.07 L245.33 178.45 L245.72 178.83 L246.12 179.20 L246.52 179.58 L246.92 179.95 L247.31 180.31 L247.71 180.68 L248.10 181.04 L248.50 181.39 L248.89 181.75 L249.28 182.10 L249.67 182.45 L250.05 182.79 L250.44 183.13 L250.82 183.46 L251.20 183.79 L251.58 184.12 L251.95 184.44 L252.33 184.76 L252.70 185.07 L253.06 185.38 L253.43 185.69 L253.79 185.99 L254.15 186.28 L254.51 186.57 L254.86 186.86 L255.21 187.14 L255.55 187.41 L255.90 187.68 L256.24 187.95 L256.57 188.20 L256.90 188.46 L257.23 188.71 L257.55 188.95 L257.87 189.18 L258.19 189.41 L258.50 189.64 L258.80 189.86 L259.10 190.07 L259.40 190.28 L259.69 190.48 L259.98 190.67 L260.26 190.86 L260.54 191.04 L260.81 191.21 L261.08 191.38 L261.34 191.54 L261.59 191.70 L261.84 191.85 L262.09 191.99 L262.33 192.13 L262.56 192.26 L262.79 192.38 L263.02 192.49 L263.23 192.60 L263.44 192.70 L263.65 192.80 L263.85 192.89 L264.04 192.97 L264.23 193.04 L264.41 193.11 L264.58 193.17 L264.75 193.22 L264.91 193.27 L265.07 193.31 L265.22 193.34 L265.36 193.36 L265.49 193.38 L265.62 193.39 L265.74 193.40 L265.86 193.39 L265.97 193.38 L266.07 193.36 L266.17 193.34 L266.26 193.31 L266.34 193.27 L266.41 193.22 L266.48 193.17 L266.54 193.11 L266.60 193.04 L266.64 192.97 L266.69 192.89 L266.72 192.80 L266.75 192.70 L266.76 192.60 L266.78 192.49 L266.78 192.38 L266.78 192.26 L266.77 192.13 L266.76 191.99 L266.74 191.85 L266.71 191.70 L266.67 191.54 L266.63 191.38 L266.58 191.21 L266.52 191.04 L266.46 190.86 L266.39 190.67 L266.31 190.48 L266.22 190.28 L266.13 190.07 L266.03 189.86 L265.93 189.64 L265.82 189.41 L265.70 189.18 L265.57 188.95 L265.44 188.71 L265.30 188.46 L265.16 188.20 L265.01 187.95 L264.85 187.68 L264.69 187.41 L264.52 187.14 L264.34 186.86 L264.16 186.57 L263.97 186.28 L263.77 185.99 L263.57 185.69 L263.36 185.38 L263.15 185.07 L262.93 184.76 L262.71 184.44 L262.48 184.12 L262.24 183.79 L262.00 183.46 L261.75 183.13 L261.50 182.79 L261.24 182.45 L260.98 182.10 L260.71 181.75 L260.43 181.39 L260.15 181.04 L259.87 180.68 L259.58 180.31 L259.29 179.95 L258.99 179.58 L258.69 179.20 L258.38 178.83 L258.07 178.45 L257.75 178.07 L257.43 177.68 L257.11 177.30 L256.78 176.91 L256.44 176.52 L256.11 176.13 L255.77 175.74 L255.42 175.34 L255.08 174.94 L254.73 174.55 L254.37 174.15 L254.02 173.74 L253.66 173.34 L253.29 172.94 L252.93 172.54 L252.56 172.13 L252.19 171.73 L251.81 171.32 L251.43 170.91 L251.06 170.51 L250.67 170.10" fill="#ffb84d" stroke="#ffb84d" stroke-width="0.5"/>
<path d="M256.87 170.10 L255.61 168.85 L254.35 167.59 L253.08 166.34 L251.81 165.09 L250.53 163.84 L249.26 162.59 L247.98 161.34 L246.70 160.10 L245.42 158.86 L244.14 157.62 L242.86 156.39 L241.58 155.16 L240.30 153.94 L239.02 152.72 L237.74 151.51 L236.47 150.30 L235.20 149.10 L233.93 147.90 L232.66 146.71 L231.39 145.53 L230.13 144.35 L228.88 143.19 L227.63 142.03 L226.38 140.88 L225.14 139.74 L223.90 138.61 L222.68 137.48 L221.45 136.37 L220.24 135.27 L219.03 134.18 L217.83 133.10 L216.63 132.03 L215.45 130.97 L214.27 129.93 L213.11 128.89 L211.95 127.87 L210.80 126.86 L209.66 125.87 L208.53 124.89 L207.42 123.92 L206.31 122.97 L205.22 122.03 L204.13 121.10 L203.06 120.19 L202.00 119.30 L200.96 118.42 L199.93 117.56 L198.91 116.71 L197.90 115.88 L196.91 115.06 L195.93 114.27 L194.97 113.49 L194.02 112.72 L193.09 111.98 L192.18 111.25 L191.27 110.54 L190.39 109.85 L189.52 109.17 L188.67 108.52 L187.83 107.88 L187.01 107.26 L186.21 106.67 L185.43 106.09 L184.66 105.53 L183.92 104.99 L183.19 104.47 L182.48 103.97 L181.78 103.49 L181.11 103.03 L180.46 102.59 L179.82 102.17 L179.21 101.77 L178.61 101.40 L178.03 101.04 L177.48 100.70 L176.94 100.39 L176.43 100.10 L175.93 99.83 L175.46 99.58 L175.01 99.35 L174.57 99.14 L174.16 98.96 L173.77 98.79 L173.40 98.65 L173.06 98.53 L172.73 98.43 L172.43 98.36 L172.15 98.30 L171.89 98.27 L171.65 98.26 L171.43 98.27 L171.24 98.30 L171.06 98.36 L170.91 98.43 L170.79 98.53 L170.68 98.65 L170.60 98.79 L170.54 98.96 L170.50 99.14 L170.48 99.35 L170.49 99.58 L170.52 99.83 L170.57 100.10 L170.64 100.39 L170.74 100.70 L170.85 101.04 L170.99 101.40 L171.16 101.77 L171.34 102.17 L171.55 102.59 L171.77 103.03 L172.03 103.49 L172.30 103.97 L172.59 104.47 L172.91 104.99 L173.24 105.53 L173.60 106.09 L173.98 106.67 L174.39 107.26 L174.81 107.88 L175.25 108.52 L175.72 109.17 L176.20 109.85 L176.71 110.54 L177.23 111.25 L177.78 111.98 L178.35 112.72 L178.93 113.49 L179.54 114.27 L180.17 115.06 L180.81 115.88 L181.48 116.71 L182.16 117.56 L182.86 118.42 L183.58 119.30 L184.32 120.19 L185.08 121.10 L185.86 122.03 L186.65 122.97 L187.46 123.92 L188.29 124.89 L189.13 125.87 L189.99 126.86 L190.87 127.87 L191.77 128.89 L192.68 129.93 L193.60 130.97 L194.54 132.03 L195.50 133.10 L196.47 134.18 L197.45 135.27 L198.45 136.37 L199.47 137.48 L200.49 138.61 L201.53 139.74 L202.58 140.88 L203.65 142.03 L204.73 143.19 L205.81 144.35 L206.92 145.53 L208.03 146.71 L209.15 147.90 L210.28 149.10 L211.43 150.30 L212.58 151.51 L213.74 152.72 L214.92 153.94 L216.10 155.16 L217.29 156.39 L218.48 157.62 L219.69 158.86 L220.90 160.10 L222.12 161.34 L223.35 162.59 L224.58 163.84 L225.82 165.09 L227.06 166.34 L228.31 167.59 L229.57 168.85 L230.83 170.10 L232.09 171.35 L233.35 172.61 L234.62 173.86 L235.89 175.11 L237.17 176.36 L238.44 177.61 L239.72 178.86 L241.00 180.10 L242.28 181.34 L243.56 182.58 L244.84 183.81 L246.12 185.04 L247.40 186.26 L248.68 187.48 L249.96 188.69 L251.23 189.90 L252.50 191.10 L253.77 192.30 L255.04 193.49 L256.31 194.67 L257.57 195.85 L258.82 197.01 L260.07 198.17 L261.32 199.32 L262.56 200.46 L263.80 201.59 L265.02 202.72 L266.25 203.83 L267.46 204.93 L268.67 206.02 L269.87 207.10 L271.07 208.17 L272.25 209.23 L273.43 210.27 L274.59 211.31 L275.75 212.33 L276.90 213.34 L278.04 214.33 L279.17 215.31 L280.28 216.28 L281.39 217.23 L282.48 218.17 L283.57 219.10 L284.64 220.01 L285.70 220.90 L286.74 221.78 L287.77 222.64 L288.79 223.49 L289.80 224.32 L290.79 225.14 L291.77 225.93 L292.73 226.71 L293.68 227.48 L294.61 228.22 L295.52 228.95 L296.43 229.66 L297.31 230.35 L298.18 231.03 L299.03 231.68 L299.87 232.32 L300.69 232.94 L301.49 233.53 L302.27 234.11 L303.04 234.67 L303.78 235.21 L304.51 235.73 L305.22 236.23 L305.92 236.71 L306.59 237.17 L307.24 237.61 L307.88 238.03 L308.49 238.43 L309.09 238.80 L309.67 239.16 L310.22 239.50 L310.76 239.81 L311.27 240.10 L311.77 240.37 L312.24 240.62 L312.69 240.85 L313.13 241.06 L313.54 241.24 L313.93 241.41 L314.30 241.55 L314.64 241.67 L314.97 241.77 L315.27 241.84 L315.55 241.90 L315.81 241.93 L316.05 241.94 L316.27 241.93 L316.46 241.90 L316.64 241.84 L316.79 241.77 L316.91 241.67 L317.02 241.55 L317.10 241.41 L317.16 241.24 L317.20 241.06 L317.22 240.85 L317.21 240.62 L317.18 240.37 L317.13 240.10 L317.06 239.81 L316.96 239.50 L316.85 239.16 L316.71 238.80 L316.54 238.43 L316.36 238.03 L316.15 237.61 L315.93 237.17 L315.67 236.71 L315.40 236.23 L315.11 235.73 L314.79 235.21 L314.46 234.67 L314.10 234.11 L313.72 233.53 L313.31 232.94 L312.89 232.32 L312.45 231.68 L311.98 231.03 L311.50 230.35 L310.99 229.66 L310.47 228.95 L309.92 228.22 L309.35 227.48 L308.77 226.71 L308.16 225.93 L307.53 225.14 L306.89 224.32 L306.22 223.49 L305.54 222.64 L304.84 221.78 L304.12 220.90 L303.38 220.01 L302.62 219.10 L301.84 218.17 L301.05 217.23 L300.24 216.28 L299.41 215.31 L298.57 214.33 L297.71 213.34 L296.83 212.33 L295.93 211.31 L295.02 210.27 L294.10 209.23 L293.16 208.17 L292.20 207.10 L291.23 206.02 L290.25 204.93 L289.25 203.83 L288.23 202.72 L287.21 201.59 L286.17 200.46 L285.12 199.32 L284.05 198.17 L282.97 197.01 L281.89 195.85 L280.78 194.67 L279.67 193.49 L278.55 192.30 L277.42 191.10 L276.27 189.90 L275.12 188.69 L273.96 187.48 L272.78 186.26 L271.60 185.04 L270.41 183.81 L269.22 182.58 L268.01 181.34 L266.80 180.10 L265.58 178.86 L264.35 177.61 L263.12 176.36 L261.88 175.11 L260.64 173.86 L259.39 172.61 L258.13 171.35 L256.87 170.10" stroke="#0808fa" stroke-width="1.55"/>
</g>
<path d="M97.09 335.05 v-13 M97.09 4.65 v13 M115.44 335.05 v-6 M115.44 4.65 v6 M133.78 335.05 v-6 M133.78 4.65 v6 M152.12 335.05 v-6 M152.12 4.65 v6 M170.47 335.05 v-13 M170.47 4.65 v13 M188.82 335.05 v-6 M188.82 4.65 v6 M207.16 335.05 v-6 M207.16 4.65 v6 M225.51 335.05 v-6 M225.51 4.65 v6 M243.85 335.05 v-13 M243.85 4.65 v13 M262.19 335.05 v-6 M262.19 4.65 v6 M280.54 335.05 v-6 M280.54 4.65 v6 M298.89 335.05 v-6 M298.89 4.65 v6 M317.23 335.05 v-13 M317.23 4.65 v13 M335.58 335.05 v-6 M335.58 4.65 v6 M353.92 335.05 v-6 M353.92 4.65 v6 M372.26 335.05 v-6 M372.26 4.65 v6 M390.61 335.05 v-13 M390.61 4.65 v13 M79.35 320.40 h12.5 M409.2 320.40 h-12.5 M79.35 305.37 h6 M409.2 305.37 h-6 M79.35 290.34 h6 M409.2 290.34 h-6 M79.35 275.31 h6 M409.2 275.31 h-6 M79.35 260.28 h6 M409.2 260.28 h-6 M79.35 245.25 h12.5 M409.2 245.25 h-12.5 M79.35 230.22 h6 M409.2 230.22 h-6 M79.35 215.19 h6 M409.2 215.19 h-6 M79.35 200.16 h6 M409.2 200.16 h-6 M79.35 185.13 h6 M409.2 185.13 h-6 M79.35 170.10 h12.5 M409.2 170.10 h-12.5 M79.35 155.07 h6 M409.2 155.07 h-6 M79.35 140.04 h6 M409.2 140.04 h-6 M79.35 125.01 h6 M409.2 125.01 h-6 M79.35 109.98 h6 M409.2 109.98 h-6 M79.35 94.95 h12.5 M409.2 94.95 h-12.5 M79.35 79.92 h6 M409.2 79.92 h-6 M79.35 64.89 h6 M409.2 64.89 h-6 M79.35 49.86 h6 M409.2 49.86 h-6 M79.35 34.83 h6 M409.2 34.83 h-6 M79.35 19.80 h12.5 M409.2 19.80 h-12.5" stroke="#000" stroke-width="1.4" fill="none"/>
<rect x="79.35" y="4.65" width="329.85" height="330.40000000000003" fill="none" stroke="#0a0a0a" stroke-width="1.45"/>
<path d="M77.36 354.20 L88.07 354.20 M94.02 349.57 L95.21 349.00 L97.00 347.26 L97.00 359.40 M105.33 358.24 L104.73 358.82 L105.33 359.40 L105.92 358.82 L105.33 358.24 M116.04 347.26 L110.09 355.35 L119.01 355.35 M116.04 347.26 L116.04 359.40 M150.74 354.20 L161.45 354.20 M167.40 349.57 L168.59 349.00 L170.38 347.26 L170.38 359.40 M178.71 358.24 L178.11 358.82 L178.71 359.40 L179.30 358.82 L178.71 358.24 M184.06 350.15 L184.06 349.57 L184.66 348.42 L185.25 347.84 L186.44 347.26 L188.82 347.26 L190.01 347.84 L190.61 348.42 L191.20 349.57 L191.20 350.73 L190.61 351.89 L189.42 353.62 L183.47 359.40 L191.80 359.40 M233.04 354.20 L243.75 354.20 M249.70 349.57 L250.89 349.00 L252.68 347.26 L252.68 359.40 M297.50 354.20 L308.21 354.20 M315.94 347.26 L314.16 347.84 L312.97 349.57 L312.37 352.46 L312.37 354.20 L312.97 357.09 L314.16 358.82 L315.94 359.40 L317.13 359.40 L318.92 358.82 L320.11 357.09 L320.70 354.20 L320.70 352.46 L320.11 349.57 L318.92 347.84 L317.13 347.26 L315.94 347.26 M325.46 358.24 L324.87 358.82 L325.46 359.40 L326.06 358.82 L325.46 358.24 M333.20 347.26 L331.41 347.84 L330.82 349.00 L330.82 350.15 L331.41 351.31 L332.60 351.89 L334.98 352.46 L336.77 353.04 L337.96 354.20 L338.55 355.35 L338.55 357.09 L337.96 358.24 L337.36 358.82 L335.58 359.40 L333.20 359.40 L331.41 358.82 L330.82 358.24 L330.22 357.09 L330.22 355.35 L330.82 354.20 L332.01 353.04 L333.79 352.46 L336.17 351.89 L337.36 351.31 L337.96 350.15 L337.96 349.00 L337.36 347.84 L335.58 347.26 L333.20 347.26 M370.88 354.20 L381.59 354.20 M389.33 347.26 L387.54 347.84 L386.35 349.57 L385.76 352.46 L385.76 354.20 L386.35 357.09 L387.54 358.82 L389.33 359.40 L390.52 359.40 L392.30 358.82 L393.49 357.09 L394.09 354.20 L394.09 352.46 L393.49 349.57 L392.30 347.84 L390.52 347.26 L389.33 347.26 M398.85 358.24 L398.25 358.82 L398.85 359.40 L399.44 358.82 L398.85 358.24 M411.34 349.00 L410.75 347.84 L408.96 347.26 L407.77 347.26 L405.99 347.84 L404.80 349.57 L404.20 352.46 L404.20 355.35 L404.80 357.67 L405.99 358.82 L407.77 359.40 L408.37 359.40 L410.15 358.82 L411.34 357.67 L411.94 355.93 L411.94 355.35 L411.34 353.62 L410.15 352.46 L408.37 351.89 L407.77 351.89 L405.99 352.46 L404.80 353.62 L404.20 355.35 M59.76 16.07 L60.98 15.48 L62.81 13.71 L62.81 26.10 M43.29 88.86 L41.46 89.45 L40.24 91.22 L39.63 94.17 L39.63 95.94 L40.24 98.89 L41.46 100.66 L43.29 101.25 L44.51 101.25 L46.34 100.66 L47.56 98.89 L48.17 95.94 L48.17 94.17 L47.56 91.22 L46.34 89.45 L44.51 88.86 L43.29 88.86 M53.05 100.07 L52.44 100.66 L53.05 101.25 L53.66 100.66 L53.05 100.07 M65.25 88.86 L59.15 88.86 L58.54 94.17 L59.15 93.58 L60.98 92.99 L62.81 92.99 L64.64 93.58 L65.86 94.76 L66.47 96.53 L66.47 97.71 L65.86 99.48 L64.64 100.66 L62.81 101.25 L60.98 101.25 L59.15 100.66 L58.54 100.07 L57.93 98.89 M61.59 164.01 L59.76 164.60 L58.54 166.37 L57.93 169.32 L57.93 171.09 L58.54 174.04 L59.76 175.81 L61.59 176.40 L62.81 176.40 L64.64 175.81 L65.86 174.04 L66.47 171.09 L66.47 169.32 L65.86 166.37 L64.64 164.60 L62.81 164.01 L61.59 164.01 M24.38 246.24 L35.36 246.24 M43.29 239.16 L41.46 239.75 L40.24 241.52 L39.63 244.47 L39.63 246.24 L40.24 249.19 L41.46 250.96 L43.29 251.55 L44.51 251.55 L46.34 250.96 L47.56 249.19 L48.17 246.24 L48.17 244.47 L47.56 241.52 L46.34 239.75 L44.51 239.16 L43.29 239.16 M53.05 250.37 L52.44 250.96 L53.05 251.55 L53.66 250.96 L53.05 250.37 M65.25 239.16 L59.15 239.16 L58.54 244.47 L59.15 243.88 L60.98 243.29 L62.81 243.29 L64.64 243.88 L65.86 245.06 L66.47 246.83 L66.47 248.01 L65.86 249.78 L64.64 250.96 L62.81 251.55 L60.98 251.55 L59.15 250.96 L58.54 250.37 L57.93 249.19 M42.68 321.39 L53.66 321.39 M59.76 316.67 L60.98 316.08 L62.81 314.31 L62.81 326.70" fill="none" stroke="#000" stroke-width="1.3" stroke-linecap="round" stroke-linejoin="round"/>
<text x="233.9" y="378.5" font-size="17.2" font-style="italic" stroke="#000" stroke-width="0.5">w</text>
<text x="246.2" y="384.9" font-size="12.3" font-weight="bold" stroke="#000" stroke-width="0.3">0</text>
<g transform="translate(13.3,180.4) rotate(-90)"><text x="0" y="0" font-size="17.2" font-style="italic" stroke="#000" stroke-width="0.5">w</text><text x="12.6" y="5.9" font-size="12.5" font-weight="bold" stroke="#000" stroke-width="0.3">a</text></g>
<text class="s" transform="translate(105.6,264) scale(1.1,1)" font-size="17.5" fill="#000" stroke="#000" stroke-width="0.18" textLength="76.55" lengthAdjust="spacing">Curvature</text>
<text class="s" transform="translate(200.1,264) scale(1.1,1)" font-size="17.5" fill="#000" stroke="#000" stroke-width="0.18" textLength="58.00" lengthAdjust="spacing">floating</text>
<text class="s" transform="translate(105.6,286.7) scale(1.1,1)" font-size="17.5" fill="#000" stroke="#000" stroke-width="0.18" textLength="92.36" lengthAdjust="spacing">Systematics</text>
<text class="s" transform="translate(217.3,286.7) scale(1.1,1)" font-size="17.5" fill="#000" stroke="#000" stroke-width="0.18" textLength="26.27" lengthAdjust="spacing">and</text>
<text class="s" transform="translate(103.8,308.8) scale(1.1,1)" font-size="17.5" fill="#000" stroke="#000" stroke-width="0.18" font-style="italic" textLength="50.64" lengthAdjust="spacing">Planck</text>
<text class="s" transform="translate(171.3,308.8) scale(1.1,1)" font-size="17.5" fill="#000" stroke="#000" stroke-width="0.18" textLength="47.73" lengthAdjust="spacing">priors</text>
<text class="s" transform="translate(232,308.8) scale(1.1,1)" font-size="17.5" fill="#000" stroke="#000" stroke-width="0.18" textLength="65.18" lengthAdjust="spacing">included</text>
<path d="M287.8 38.6 H320.4" stroke="#0808fa" stroke-width="1.15"/>
<path d="M287.8 58.2 H300.1 M308.8 58.2 H320.4" stroke="#ff00ff" stroke-width="1.15"/>
<path d="M288 77.8 h2.7 M294.65 77.8 H306.9 M311.2 77.8 h2.7 M317.9 77.8 h2.7" stroke="#3a8dab" stroke-width="1.3"/>
<path d="M288 97.6 H318" stroke="#ff1a00" stroke-width="1.15" stroke-dasharray="3.2 3.42"/>
<rect x="287.9" y="109.9" width="33.3" height="8.9" fill="#00e800"/>
<rect x="287.9" y="129.1" width="33.3" height="9.2" fill="#ffb84d"/>
<text class="s" x="329.2" y="42.2" font-size="16.5" fill="#0808fa" stroke="#0808fa" stroke-width="0.4" textLength="20.2" lengthAdjust="spacingAndGlyphs">WL</text>
<text class="s" x="329.2" y="61.8" font-size="16.5" fill="#ff00ff" stroke="#ff00ff" stroke-width="0.4" textLength="30.3" lengthAdjust="spacingAndGlyphs">BAO</text>
<text class="s" transform="translate(329.2,81.7) scale(1.15,1)" font-size="16.5" fill="#12789c" stroke="#12789c" stroke-width="0.08" textLength="52.17" lengthAdjust="spacing">Cluster</text>
<text class="s" x="329.2" y="101" font-size="16.5" fill="#ff1a00" stroke="#ff1a00" stroke-width="0.4" textLength="20.0" lengthAdjust="spacingAndGlyphs">SN</text>
<text class="s" x="329.2" y="119.8" font-size="16.5" fill="#00e800" stroke="#00e800" stroke-width="0.4" textLength="63.6" lengthAdjust="spacingAndGlyphs">WL+BAO</text>
<text class="s" x="329.2" y="139.5" font-size="16.5" fill="#ffb84d" stroke="#ffb84d" stroke-width="0.4" textLength="19.3" lengthAdjust="spacingAndGlyphs">All</text>
</svg></body></html>
